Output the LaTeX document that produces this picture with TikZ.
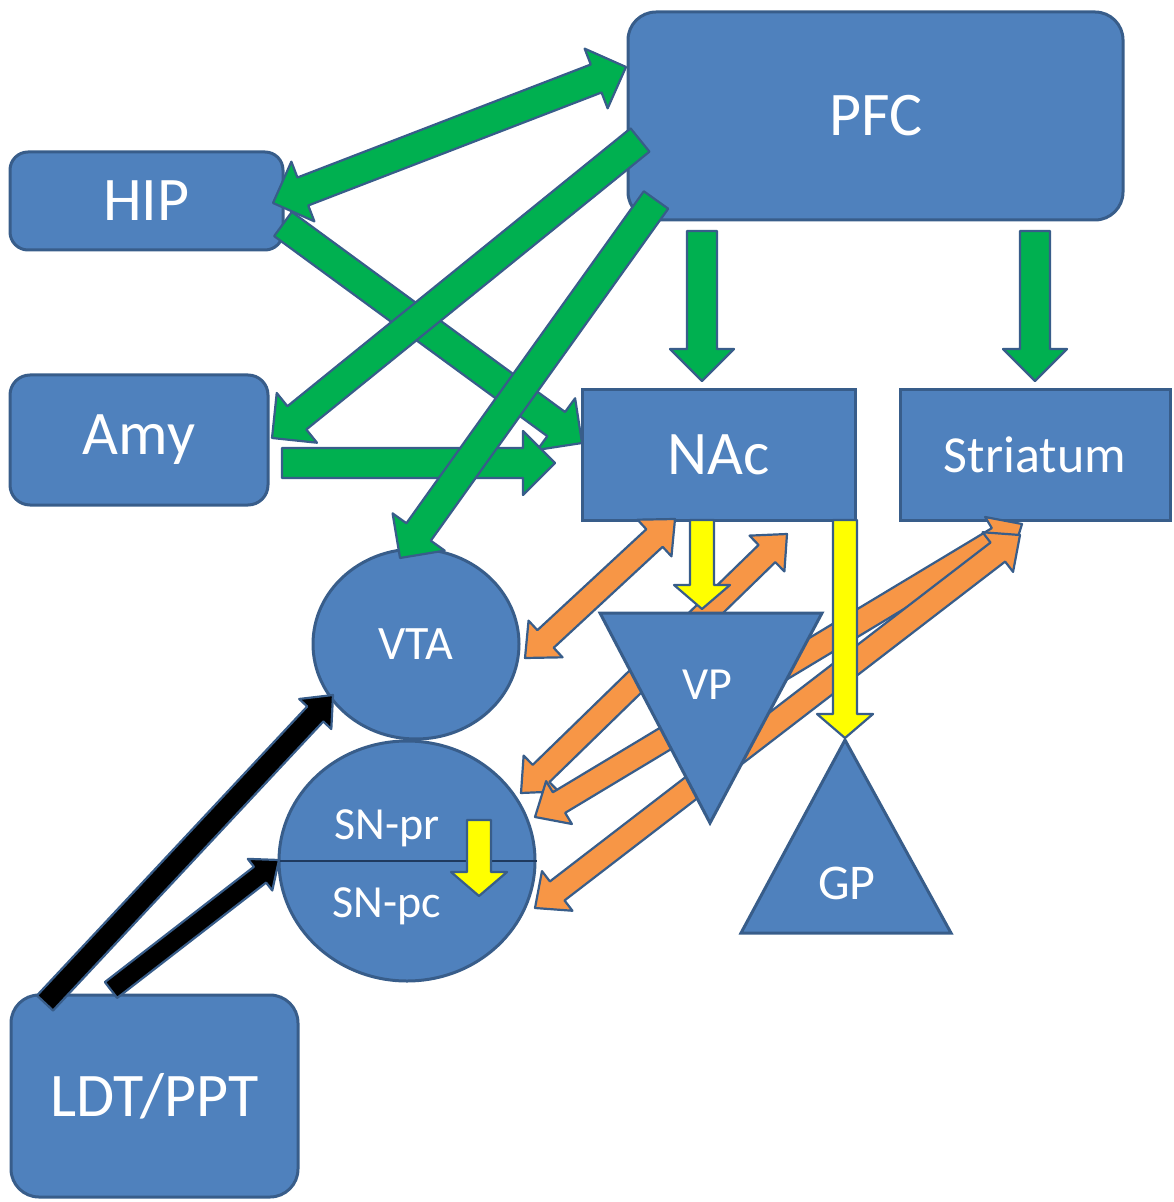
\documentclass[tikz,border=0pt]{standalone}
\usepackage{fontspec}
\setmainfont{Carlito}
\usetikzlibrary{calc,shapes.geometric}
\definecolor{brblue}{HTML}{4F81BD}
\definecolor{brline}{HTML}{385D8A}
\definecolor{brnavy}{HTML}{1F3A5F}
\definecolor{brgreen}{HTML}{00B050}
\definecolor{brorange}{HTML}{F79646}
\definecolor{bryellow}{HTML}{FFFF00}

\tikzset{
  blockdims/.code args={#1/#2/#3}{\def\bw{#1}\def\bh{#2}\def\bl{#3}},
  block/.style={to path={
      ($(\tikztostart)!\bw!90:(\tikztotarget)$)
      -- ($($(\tikztotarget)!\bl!(\tikztostart)$)!\bw!90:(\tikztotarget)$)
      -- ($($(\tikztotarget)!\bl!(\tikztostart)$)!\bh!90:(\tikztotarget)$)
      -- (\tikztotarget)
      -- ($($(\tikztotarget)!\bl!(\tikztostart)$)!\bh!-90:(\tikztotarget)$)
      -- ($($(\tikztotarget)!\bl!(\tikztostart)$)!\bw!-90:(\tikztotarget)$)
      -- ($(\tikztostart)!\bw!-90:(\tikztotarget)$)
      -- cycle}},
  dblock/.style={to path={
      (\tikztostart)
      -- ($($(\tikztostart)!\bl!(\tikztotarget)$)!\bh!90:(\tikztotarget)$)
      -- ($($(\tikztostart)!\bl!(\tikztotarget)$)!\bw!90:(\tikztotarget)$)
      -- ($($(\tikztotarget)!\bl!(\tikztostart)$)!\bw!90:(\tikztotarget)$)
      -- ($($(\tikztotarget)!\bl!(\tikztostart)$)!\bh!90:(\tikztotarget)$)
      -- (\tikztotarget)
      -- ($($(\tikztotarget)!\bl!(\tikztostart)$)!\bh!-90:(\tikztotarget)$)
      -- ($($(\tikztotarget)!\bl!(\tikztostart)$)!\bw!-90:(\tikztotarget)$)
      -- ($($(\tikztostart)!\bl!(\tikztotarget)$)!\bw!-90:(\tikztotarget)$)
      -- ($($(\tikztostart)!\bl!(\tikztotarget)$)!\bh!-90:(\tikztotarget)$)
      -- cycle}}
}

\begin{document}
\begin{tikzpicture}[
  x=0.5pt, y=-0.5pt,
  region/.style={draw=brline, line width=1.5pt, fill=brblue, text=white},
  box/.style={region, rectangle, font=\fontsize{31pt}{31pt}\selectfont},
  blob/.style={region, ellipse, inner sep=0pt},
  tag/.style={text=white, inner sep=0pt},
  arrowline/.style={draw=brline, line width=1.1pt, line join=round},
  garrow/.style={block, arrowline, fill=brgreen, blockdims=7.5pt/16pt/16pt},
  gdarrow/.style={dblock, arrowline, fill=brgreen, blockdims=7.5pt/16pt/16pt},
  yarrow/.style={block, arrowline, fill=bryellow, blockdims=6pt/14pt/12pt},
  oarrow/.style={dblock, arrowline, fill=brorange, blockdims=6pt/12.5pt/14pt},
  karrow/.style={block, arrowline, fill=black, blockdims=5.5pt/11pt/13pt}
]
\useasboundingbox (0,0) rectangle (1173,1202);

% Cortex and limbic inputs
\node[box, rounded corners=14pt, minimum width=247.5pt, minimum height=104pt] (pfc) at (875.5,116) {PFC};
\node[box, rounded corners=9pt, minimum width=136.5pt, minimum height=49pt] (hip) at (146.5,201) {HIP};
\node[box, rounded corners=10pt, minimum width=129pt, minimum height=65pt] (amy) at (139,440) {Amy};

% Striatal targets
\node[box, minimum width=136.5pt, minimum height=65pt] (nac) at (718.5,455) {NAc};
\node[box, minimum width=135pt, minimum height=65pt, font=\fontsize{26pt}{26pt}\selectfont] (str) at (1035,455) {Striatum};

% Midbrain
\node[blob, minimum width=103pt, minimum height=95pt, font=\fontsize{24pt}{24pt}\selectfont] (vta) at (416,644) {VTA};
\node[blob, minimum width=128pt, minimum height=120pt] (sn) at (407,861) {};
\draw[brnavy, line width=1pt] (sn.west) -- (sn.east);
\node[tag, font=\fontsize{23pt}{23pt}\selectfont] (snpr) at (387,828) {SN-pr};
\node[tag, font=\fontsize{23pt}{23pt}\selectfont] (snpc) at (387,906) {SN-pc};

% Brainstem
\node[box, rounded corners=14pt, minimum width=143.5pt, minimum height=101pt] (ldt) at (154.5,1096) {LDT/PPT};

% Arrow ends
\coordinate (hipE1) at (273,203);  \coordinate (pfcW1) at (626,67);
\coordinate (hipE2) at (283,224);  \coordinate (nacW1) at (582,443);
\coordinate (pfcW2) at (640,140);  \coordinate (amyE1) at (272,438);
\coordinate (pfcW3) at (656,200);  \coordinate (vtaN)  at (400,558);
\coordinate (amyE2) at (282,463);  \coordinate (nacW2) at (555,463);
\coordinate (pfcS1) at (702,231);  \coordinate (nacN)  at (702,381);
\coordinate (pfcS2) at (1035,231); \coordinate (strN)  at (1035,381);
\coordinate (nacS1) at (702,520);  \coordinate (vpN)   at (702,609);
\coordinate (nacS2) at (845,520);  \coordinate (gpN)   at (845,738);
\coordinate (snprE) at (479,820);  \coordinate (snpcE) at (479,896);
\coordinate (vtaE)  at (525,658);  \coordinate (nacS3) at (675,519);
\coordinate (snE1)  at (521,793);  \coordinate (nacS4) at (787,534);
\coordinate (snE2)  at (535,817);  \coordinate (strS1) at (1022,524);
\coordinate (snE3)  at (535,908);  \coordinate (strS2) at (1020,535);
\coordinate (ldtN1) at (45,1003);  \coordinate (vtaSW) at (333,695);
\coordinate (ldtN2) at (111,990);  \coordinate (snW)   at (279,860);

% Orange - dopamine loops
\draw[oarrow] (vtaE) to (nacS3);
\draw[oarrow] (snE1) to (nacS4);
\draw[oarrow] (snE2) to (strS1);
\draw[oarrow] (snE3) to (strS2);

% Pallidum
\draw[region] (600,613) -- (822,613) -- (710,823) -- cycle;
\node[tag, font=\fontsize{23pt}{23pt}\selectfont] (vp) at (707,685) {VP};
\draw[region] (845,740) -- (951,933) -- (741,933) -- cycle;
\node[tag, font=\fontsize{25pt}{25pt}\selectfont] (gp) at (847,883) {GP};

% Yellow
\draw[yarrow] (nacS1) to (vpN);
\draw[yarrow] (nacS2) to (gpN);
\draw[yarrow] (snprE) to (snpcE);

% Green
\draw[gdarrow] (hipE1) to (pfcW1);
\draw[garrow] (hipE2) to (nacW1);
\draw[garrow] (pfcW2) to (amyE1);
\draw[garrow] (amyE2) to (nacW2);
\draw[garrow] (pfcW3) to (vtaN);
\draw[garrow] (pfcS1) to (nacN);
\draw[garrow] (pfcS2) to (strN);

% Black
\draw[karrow] (ldtN1) to (vtaSW);
\draw[karrow, blockdims=5pt/10pt/12pt] (ldtN2) to (snW);

\end{tikzpicture}
\end{document}
